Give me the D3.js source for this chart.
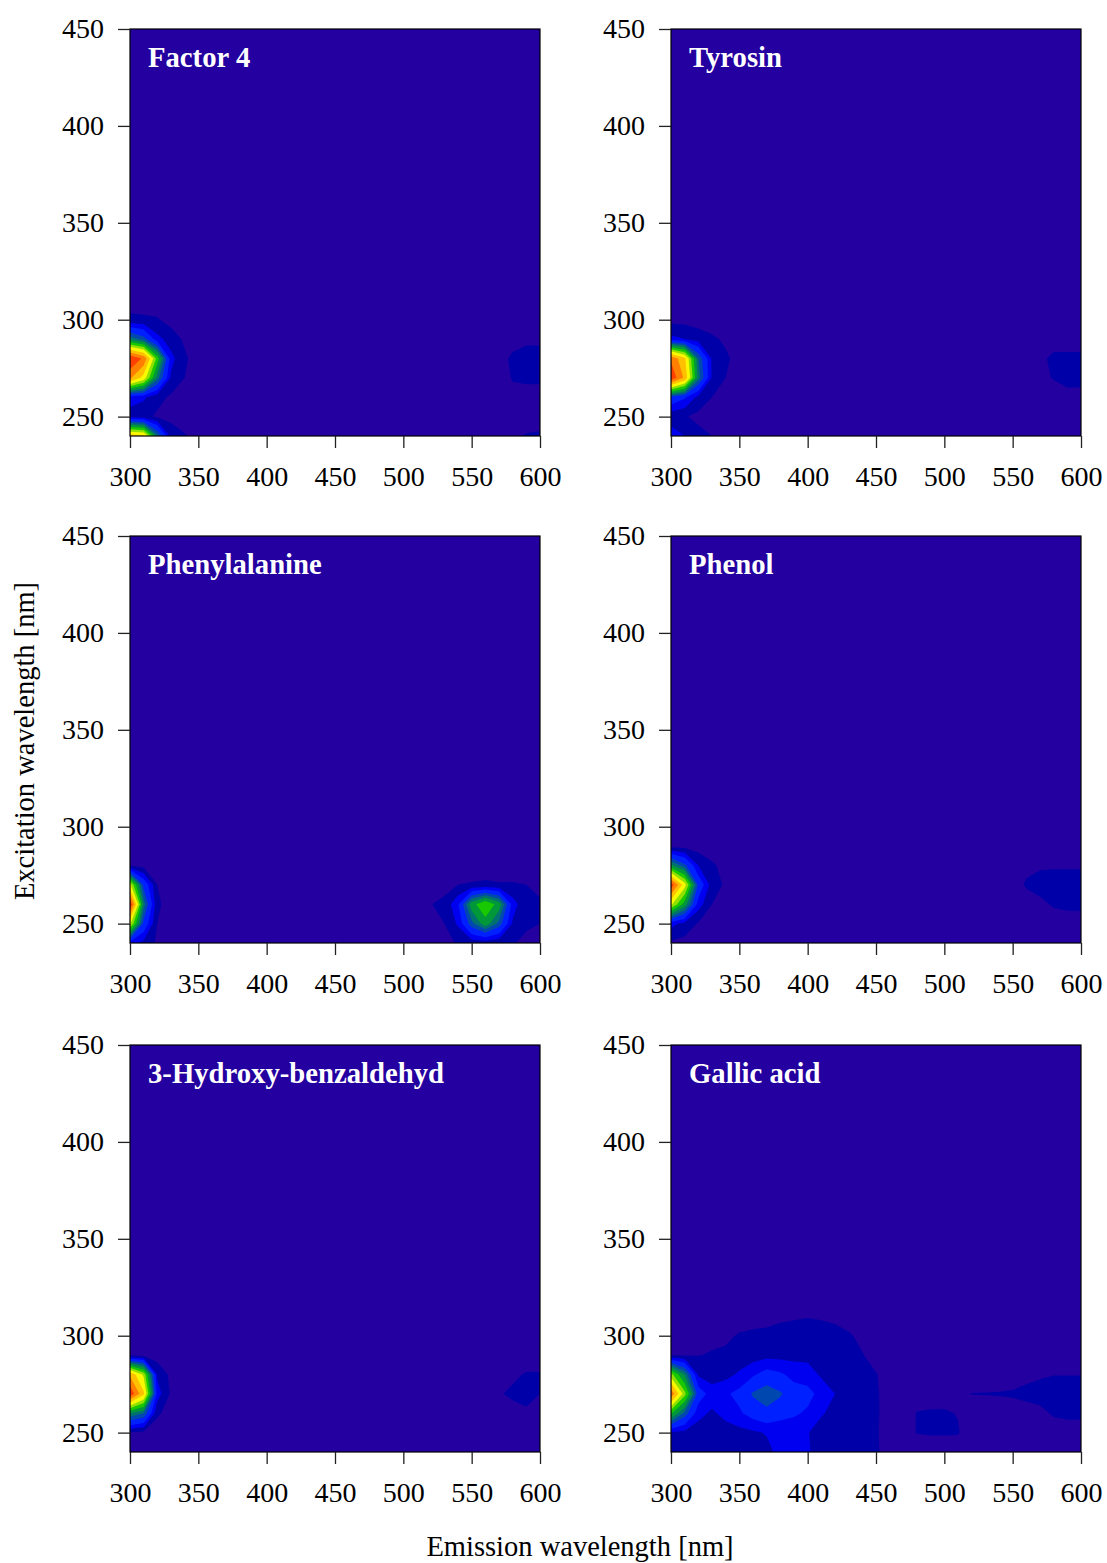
<!DOCTYPE html>
<html>
<head>
<meta charset="utf-8">
<script src="https://cdn.jsdelivr.net/npm/d3@7"></script>
<style>
body { margin: 0; background: #fff; }
svg { display: block; font-family: "Liberation Serif", "Times New Roman", serif; }
</style>
</head>
<body>
<svg id="chart" width="1107" height="1563"></svg>
<script>
// grid the spectra were read on (nm)
var emission = [300, 310, 320, 330, 340, 350, 360, 370, 380, 390, 400, 410, 420, 430, 440, 450,
    460, 470, 480, 490, 500, 510, 520, 530, 540, 550, 560, 570, 580, 590, 600];
var excitation = [240, 250, 260, 270, 280, 290, 300, 310, 320, 450];
var emTicks = [300, 350, 400, 450, 500, 550, 600];
var exTicks = [250, 300, 350, 400, 450];

// contour levels in % of panel maximum
var levels = [4, 10, 16, 24, 30, 36, 44, 52, 60, 70, 80, 90];
var levelColors = ['#0000a8', '#0000f0', '#0020ff', '#0048b0', '#007070', '#009838',
    '#18c800', '#90e000', '#f8f800', '#ffc000', '#ff8000', '#ff4000'];
var background = '#2400a0';

// intensities (%) per excitation row 240..310 nm, columns = emission
var factor4 = [
    [75, 72, 32, 8, 4.5, 2, 1, 0, 0, 0, 0, 0, 0, 0, 0, 0, 0, 0, 0, 0, 0, 0, 0, 0, 0, 0, 0, 0, 3, 4.5, 5],
    [8, 6, 3, 2, 1, 0, 0, 0, 0, 0, 0, 0, 0, 0, 0, 0, 0, 0, 0, 0, 0, 0, 0, 0, 0, 0, 0, 0, 0, 1, 1],
    [12, 11, 6, 3, 1.5, 0.5, 0, 0, 0, 0, 0, 0, 0, 0, 0, 0, 0, 0, 0, 0, 0, 0, 0, 0, 0, 0, 0, 1, 2, 2, 2],
    [82, 66, 33, 9, 4, 1, 0, 0, 0, 0, 0, 0, 0, 0, 0, 0, 0, 0, 0, 0, 0, 0, 0, 0, 0, 0, 0, 1, 4.5, 5, 5],
    [100, 88, 48, 12, 5, 1, 0, 0, 0, 0, 0, 0, 0, 0, 0, 0, 0, 0, 0, 0, 0, 0, 0, 0, 0, 0, 0, 2, 5, 6, 6],
    [34, 27, 12, 7, 3, 0.5, 0, 0, 0, 0, 0, 0, 0, 0, 0, 0, 0, 0, 0, 0, 0, 0, 0, 0, 0, 0, 0, 0, 2, 3, 3],
    [5, 5, 4.5, 2, 1, 0, 0, 0, 0, 0, 0, 0, 0, 0, 0, 0, 0, 0, 0, 0, 0, 0, 0, 0, 0, 0, 0, 0, 0, 0, 0],
    [2, 1, 1, 0, 0, 0, 0, 0, 0, 0, 0, 0, 0, 0, 0, 0, 0, 0, 0, 0, 0, 0, 0, 0, 0, 0, 0, 0, 0, 0, 0]
];
var tyrosin = [
    [14, 10, 6, 4, 2, 1, 0, 0, 0, 0, 0, 0, 0, 0, 0, 0, 0, 0, 0, 0, 0, 0, 0, 0, 0, 0, 0, 0, 0, 0, 0],
    [6, 4.5, 2.5, 1, 0, 0, 0, 0, 0, 0, 0, 0, 0, 0, 0, 0, 0, 0, 0, 0, 0, 0, 0, 0, 0, 0, 0, 0, 0, 0, 0],
    [22, 17, 8, 4, 2, 1, 0, 0, 0, 0, 0, 0, 0, 0, 0, 0, 0, 0, 0, 0, 0, 0, 0, 0, 0, 0, 0, 0, 0, 2, 2],
    [98, 78, 33, 9, 4, 1, 0, 0, 0, 0, 0, 0, 0, 0, 0, 0, 0, 0, 0, 0, 0, 0, 0, 0, 0, 0, 0, 2, 4.5, 6, 6],
    [88, 72, 30, 9, 5, 2, 0, 0, 0, 0, 0, 0, 0, 0, 0, 0, 0, 0, 0, 0, 0, 0, 0, 0, 0, 0, 0, 3, 5, 5, 5],
    [12, 10, 7, 5, 3, 1, 0, 0, 0, 0, 0, 0, 0, 0, 0, 0, 0, 0, 0, 0, 0, 0, 0, 0, 0, 0, 0, 1, 2, 2, 2],
    [2, 2, 1.5, 1, 0, 0, 0, 0, 0, 0, 0, 0, 0, 0, 0, 0, 0, 0, 0, 0, 0, 0, 0, 0, 0, 0, 0, 0, 0, 0, 0],
    [1, 1, 0, 0, 0, 0, 0, 0, 0, 0, 0, 0, 0, 0, 0, 0, 0, 0, 0, 0, 0, 0, 0, 0, 0, 0, 0, 0, 0, 0, 0]
];
var phenylalanine = [
    [13, 8, 3, 1, 0, 0, 0, 0, 0, 0, 0, 0, 0, 0, 0, 0, 0, 0, 0, 0, 0, 0, 1, 2.5, 4.5, 6, 6, 5, 4.5, 2.5, 1.5],
    [62, 22, 4, 1.5, 0, 0, 0, 0, 0, 0, 0, 0, 0, 0, 0, 0, 0, 0, 0, 0, 0, 1, 2, 4, 11, 28, 40, 28, 9, 5, 4],
    [100, 33, 5, 1.5, 0, 0, 0, 0, 0, 0, 0, 0, 0, 0, 0, 0, 0, 0, 0, 0, 0, 1.5, 3.8, 5.5, 15, 40, 52, 40, 13, 5, 4.5],
    [62, 22, 4, 1.5, 0, 0, 0, 0, 0, 0, 0, 0, 0, 0, 0, 0, 0, 0, 0, 0, 0, 0, 1, 2, 4, 4.5, 5, 4.5, 4.5, 4, 3],
    [3, 2, 1, 0, 0, 0, 0, 0, 0, 0, 0, 0, 0, 0, 0, 0, 0, 0, 0, 0, 0, 0, 0, 0, 0, 1, 1, 1, 1, 1, 1],
    [0, 0, 0, 0, 0, 0, 0, 0, 0, 0, 0, 0, 0, 0, 0, 0, 0, 0, 0, 0, 0, 0, 0, 0, 0, 0, 0, 0, 0, 0, 0],
    [0, 0, 0, 0, 0, 0, 0, 0, 0, 0, 0, 0, 0, 0, 0, 0, 0, 0, 0, 0, 0, 0, 0, 0, 0, 0, 0, 0, 0, 0, 0],
    [0, 0, 0, 0, 0, 0, 0, 0, 0, 0, 0, 0, 0, 0, 0, 0, 0, 0, 0, 0, 0, 0, 0, 0, 0, 0, 0, 0, 0, 0, 0]
];
var phenol = [
    [3, 2, 1, 0, 0, 0, 0, 0, 0, 0, 0, 0, 0, 0, 0, 0, 0, 0, 0, 0, 0, 0, 0, 0, 0, 0, 0, 0, 0, 0, 0],
    [12, 8, 3.5, 1, 0, 0, 0, 0, 0, 0, 0, 0, 0, 0, 0, 0, 0, 0, 0, 0, 0, 0, 0, 0, 0, 0, 1, 1, 2, 2, 2],
    [62, 40, 13, 4, 1.5, 0, 0, 0, 0, 0, 0, 0, 0, 0, 0, 0, 0, 0, 0, 0, 0, 0, 0, 0, 0, 1, 2, 3, 4.5, 5, 5],
    [97, 64, 22, 7, 3, 1, 0, 0, 0, 0, 0, 0, 0, 0, 0, 0, 0, 0, 0, 0, 0, 0, 0, 0, 0, 2, 4.5, 5.5, 6, 6, 6],
    [38, 26, 10, 5, 2, 0.5, 0, 0, 0, 0, 0, 0, 0, 0, 0, 0, 0, 0, 0, 0, 0, 0, 0, 0, 0, 1.5, 3, 3.5, 3.5, 3.5, 3.5],
    [2, 1.5, 1, 0.5, 0, 0, 0, 0, 0, 0, 0, 0, 0, 0, 0, 0, 0, 0, 0, 0, 0, 0, 0, 0, 0, 0, 1, 1, 1, 1, 1],
    [0, 0, 0, 0, 0, 0, 0, 0, 0, 0, 0, 0, 0, 0, 0, 0, 0, 0, 0, 0, 0, 0, 0, 0, 0, 0, 0, 0, 0, 0, 0],
    [0, 0, 0, 0, 0, 0, 0, 0, 0, 0, 0, 0, 0, 0, 0, 0, 0, 0, 0, 0, 0, 0, 0, 0, 0, 0, 0, 0, 0, 0, 0]
];
var hydroxybenzaldehyd = [
    [1, 1, 0, 0, 0, 0, 0, 0, 0, 0, 0, 0, 0, 0, 0, 0, 0, 0, 0, 0, 0, 0, 0, 0, 0, 0, 0, 0, 0, 0, 0],
    [3.5, 2.5, 1, 0, 0, 0, 0, 0, 0, 0, 0, 0, 0, 0, 0, 0, 0, 0, 0, 0, 0, 0, 0, 0, 0, 0, 0, 0, 0, 0, 0],
    [36, 30, 5, 1.5, 0, 0, 0, 0, 0, 0, 0, 0, 0, 0, 0, 0, 0, 0, 0, 0, 0, 0, 0, 0, 0, 0, 0, 0, 2, 3.5, 3.5],
    [98, 72, 13, 3, 1, 0, 0, 0, 0, 0, 0, 0, 0, 0, 0, 0, 0, 0, 0, 0, 0, 0, 0, 0, 0, 0, 1, 3.5, 5, 5, 4],
    [78, 58, 9, 2.5, 0.5, 0, 0, 0, 0, 0, 0, 0, 0, 0, 0, 0, 0, 0, 0, 0, 0, 0, 0, 0, 0, 0, 0, 1, 3, 4.5, 4.5],
    [2, 1.5, 1, 0, 0, 0, 0, 0, 0, 0, 0, 0, 0, 0, 0, 0, 0, 0, 0, 0, 0, 0, 0, 0, 0, 0, 0, 0, 0, 1, 1],
    [0, 0, 0, 0, 0, 0, 0, 0, 0, 0, 0, 0, 0, 0, 0, 0, 0, 0, 0, 0, 0, 0, 0, 0, 0, 0, 0, 0, 0, 0, 0],
    [0, 0, 0, 0, 0, 0, 0, 0, 0, 0, 0, 0, 0, 0, 0, 0, 0, 0, 0, 0, 0, 0, 0, 0, 0, 0, 0, 0, 0, 0, 0]
];
var gallicAcid = [
    [6, 6, 5.5, 5, 5, 5.5, 6, 8, 12, 14, 11, 6, 5, 5, 5, 4.5, 2.5, 1, 1, 1, 1, 1, 1, 1, 1, 1, 1, 1, 1, 1, 1],
    [9, 8, 7, 6, 7, 8, 9, 10.5, 11, 12, 10.5, 6, 5.5, 5, 5, 4.5, 2, 2, 4.2, 4.5, 4.5, 4.4, 1, 1, 1.5, 1.5, 2, 2, 2, 2, 2],
    [45, 28, 12, 9, 12, 15, 19, 22, 19, 17, 15, 11, 7, 6, 5.5, 4.5, 2.5, 2, 4.2, 4.5, 4.5, 3.8, 1, 1.5, 1.5, 2, 2.5, 3, 4.5, 5, 5],
    [88, 55, 20, 13, 15, 18, 25, 28, 25, 19, 18, 14, 10, 7, 5.5, 4.3, 3, 2.5, 2, 2, 2, 3, 4.1, 4.2, 4.3, 4.5, 5, 5.5, 6, 6, 6],
    [55, 35, 9, 7, 8, 11, 15, 19, 17, 14, 13, 9, 7, 6, 5, 4.2, 2.5, 1, 1, 1, 1, 1.5, 1.5, 1.5, 1.5, 2, 3, 3.5, 3.9, 3.9, 3.9],
    [3.5, 3.5, 3.8, 4.5, 5, 6, 7, 8, 8, 8, 8, 7, 6, 5.5, 4.2, 2.5, 2, 1, 0.5, 0, 0, 0, 0, 0, 0, 0, 1, 1, 1, 1, 1],
    [2, 2, 2, 2.5, 3, 4.5, 5, 5.5, 6, 6, 6, 6, 5.5, 4.5, 3, 2, 1, 0, 0, 0, 0, 0, 0, 0, 0, 0, 0, 0, 0, 0, 0],
    [1, 1, 1, 1, 1, 1.5, 2, 2, 3, 3.5, 3.8, 3.5, 3, 2, 1, 0.5, 0, 0, 0, 0, 0, 0, 0, 0, 0, 0, 0, 0, 0, 0, 0]
];

var panels = [
    { name: 'Factor 4', rows: factor4 },
    { name: 'Tyrosin', rows: tyrosin },
    { name: 'Phenylalanine', rows: phenylalanine },
    { name: 'Phenol', rows: phenol },
    { name: '3-Hydroxy-benzaldehyd', rows: hydroxybenzaldehyd },
    { name: 'Gallic acid', rows: gallicAcid }
];

var colX = [130, 671];
var rowY = [29, 536, 1045];
var plotW = 410, plotH = 407;
var tickFont = 28;

var svg = d3.select('#chart');

var x = d3.scaleLinear().domain([300, 600]).range([0, plotW]);
var y = d3.scaleLinear().domain([240, 450]).range([plotH, 0]);

// contour grid index -> wavelength (cell centres sit at i + 0.5)
var gx = d3.scaleLinear().domain(emission.map((d, i) => i + 0.5)).range(emission);
var gy = d3.scaleLinear().domain(excitation.map((d, i) => i + 0.5)).range(excitation);

var path = d3.geoPath(d3.geoTransform({
    point: function(px, py) {
        this.stream.point(x(gx(px)), y(gy(py)));
    }
}));

// nothing above 310 nm excitation
var quiet = emission.map(() => 0);

panels.forEach((p, k) => {
    var left = colX[k % 2], top = rowY[Math.floor(k / 2)];
    var g = svg.append('g').attr('transform', `translate(${left},${top})`);

    g.append('clipPath').attr('id', 'clip' + k)
        .append('rect').attr('width', plotW).attr('height', plotH);

    var grid = p.rows.concat([quiet, quiet]);
    var values = [].concat(...grid);
    var bands = d3.contours()
        .size([emission.length, excitation.length])
        .thresholds(levels)(values);

    var plot = g.append('g').attr('clip-path', `url(#clip${k})`);
    plot.append('rect')
        .attr('width', plotW).attr('height', plotH)
        .attr('fill', background);
    plot.selectAll('path.band')
        .data(bands)
        .join('path')
        .attr('class', 'band')
        .attr('d', path)
        .attr('fill', (d, i) => levelColors[i]);

    g.append('rect')
        .attr('width', plotW).attr('height', plotH)
        .attr('fill', 'none').attr('stroke', '#000').attr('stroke-width', 1.2);

    var ax = g.append('g').attr('transform', `translate(0,${plotH})`)
        .call(d3.axisBottom(x).tickValues(emTicks).tickSize(12).tickSizeOuter(0).tickPadding(18));
    var ay = g.append('g')
        .call(d3.axisLeft(y).tickValues(exTicks).tickSize(12).tickSizeOuter(0).tickPadding(14));
    [ax, ay].forEach(a => {
        a.select('.domain').remove();
        a.selectAll('line').attr('stroke', '#222').attr('stroke-width', 1.3);
        a.selectAll('text')
            .attr('fill', '#000')
            .style('font-size', tickFont + 'px')
            .style('font-family', '"Liberation Serif", "Times New Roman", serif');
    });

    g.append('text')
        .attr('x', 18).attr('y', 38)
        .attr('fill', '#fff')
        .style('font-size', '28.7px')
        .style('font-weight', 'bold')
        .text(p.name);
});

svg.append('text')
    .attr('transform', 'translate(34,741) rotate(-90)')
    .attr('text-anchor', 'middle')
    .style('font-size', '28.5px')
    .text('Excitation wavelength [nm]');

svg.append('text')
    .attr('x', 580).attr('y', 1556)
    .attr('text-anchor', 'middle')
    .style('font-size', '28.5px')
    .text('Emission wavelength [nm]');
</script>
</body>
</html>
